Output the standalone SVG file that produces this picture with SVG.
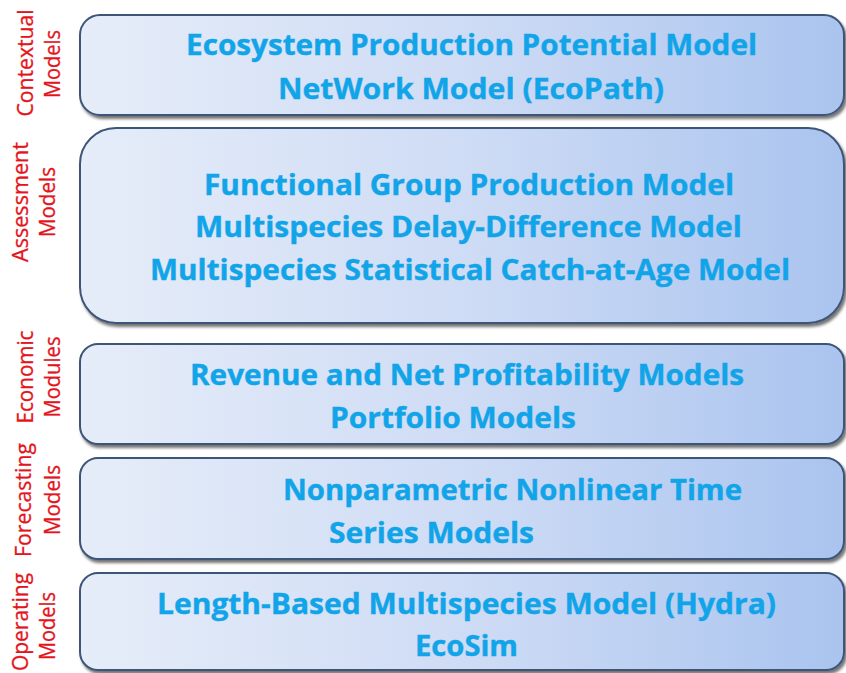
<svg xmlns="http://www.w3.org/2000/svg" width="846" height="673" viewBox="0 0 846 673">
  <defs>
    <linearGradient id="boxFill" x1="0" y1="0" x2="1" y2="0">
      <stop offset="0" stop-color="#e6edf9"/>
      <stop offset="0.5" stop-color="#cfdcf5"/>
      <stop offset="1" stop-color="#aac4ef"/>
    </linearGradient>
    <filter id="shadow" x="-5%" y="-10%" width="110%" height="125%">
      <feGaussianBlur in="SourceAlpha" stdDeviation="1.5"/>
      <feOffset dx="1.5" dy="2.5" result="off"/>
      <feComponentTransfer><feFuncA type="linear" slope="0.55"/></feComponentTransfer>
      <feMerge><feMergeNode/><feMergeNode in="SourceGraphic"/></feMerge>
    </filter>
  </defs>
  <style>
    .box { fill: url(#boxFill); stroke: #3e5678; stroke-width: 2; filter: url(#shadow); }
    .body { font-family: "Open Sans", "Liberation Sans", sans-serif; font-weight: bold; font-size: 28.5px; fill: #12a4e8; stroke: #12a4e8; stroke-width: 0.4; }
    .side { font-family: "Open Sans", "Liberation Sans", sans-serif; font-size: 21px; fill: #e5141c; stroke: #e5141c; stroke-width: 0.3; text-anchor: middle; }
  </style>
  <rect width="846" height="673" fill="#ffffff"/>

  <g id="contextual">
    <rect class="box" x="80" y="15" width="764" height="100" rx="20"/>
    <text class="body" x="186" y="55" textLength="571" lengthAdjust="spacingAndGlyphs">Ecosystem Production Potential Model</text>
    <text class="body" x="278" y="99" textLength="386" lengthAdjust="spacingAndGlyphs">NetWork Model (EcoPath)</text>
    <text class="side" transform="translate(33,63) rotate(-90)" textLength="107" lengthAdjust="spacingAndGlyphs">Contextual</text>
    <text class="side" transform="translate(60,64) rotate(-90)" textLength="68" lengthAdjust="spacingAndGlyphs">Models</text>
  </g>

  <g id="assessment">
    <rect class="box" x="80" y="128" width="764" height="195" rx="36"/>
    <text class="body" x="204" y="195" textLength="530" lengthAdjust="spacingAndGlyphs">Functional Group Production Model</text>
    <text class="body" x="195" y="237" textLength="547" lengthAdjust="spacingAndGlyphs">Multispecies Delay-Difference Model</text>
    <text class="body" x="150" y="280" textLength="640" lengthAdjust="spacingAndGlyphs">Multispecies Statistical Catch-at-Age Model</text>
    <text class="side" transform="translate(28,202) rotate(-90)" textLength="120" lengthAdjust="spacingAndGlyphs">Assessment</text>
    <text class="side" transform="translate(55,202) rotate(-90)" textLength="70" lengthAdjust="spacingAndGlyphs">Models</text>
  </g>

  <g id="economic">
    <rect class="box" x="80" y="344" width="764" height="100" rx="18"/>
    <text class="body" x="190" y="385" textLength="554" lengthAdjust="spacingAndGlyphs">Revenue and Net Profitability Models</text>
    <text class="body" x="330" y="428" textLength="246" lengthAdjust="spacingAndGlyphs">Portfolio Models</text>
    <text class="side" transform="translate(33,377) rotate(-90)" textLength="93" lengthAdjust="spacingAndGlyphs">Economic</text>
    <text class="side" transform="translate(60,377) rotate(-90)" textLength="81" lengthAdjust="spacingAndGlyphs">Modules</text>
  </g>

  <g id="forecasting">
    <rect class="box" x="80" y="458" width="764" height="101" rx="18"/>
    <text class="body" x="283" y="500" textLength="459" lengthAdjust="spacingAndGlyphs">Nonparametric Nonlinear Time</text>
    <text class="body" x="329" y="543" textLength="205" lengthAdjust="spacingAndGlyphs">Series Models</text>
    <text class="side" transform="translate(31,500) rotate(-90)" textLength="114" lengthAdjust="spacingAndGlyphs">Forecasting</text>
    <text class="side" transform="translate(60,500) rotate(-90)" textLength="70" lengthAdjust="spacingAndGlyphs">Models</text>
  </g>

  <g id="operating">
    <rect class="box" x="80" y="573" width="764" height="97" rx="18"/>
    <text class="body" x="157" y="614" textLength="619" lengthAdjust="spacingAndGlyphs">Length-Based Multispecies Model (Hydra)</text>
    <text class="body" x="415" y="656" textLength="103" lengthAdjust="spacingAndGlyphs">EcoSim</text>
    <text class="side" transform="translate(28,622) rotate(-90)" textLength="98" lengthAdjust="spacingAndGlyphs">Operating</text>
    <text class="side" transform="translate(55,626) rotate(-90)" textLength="68" lengthAdjust="spacingAndGlyphs">Models</text>
  </g>

  <g id="connectors"/>
</svg>
